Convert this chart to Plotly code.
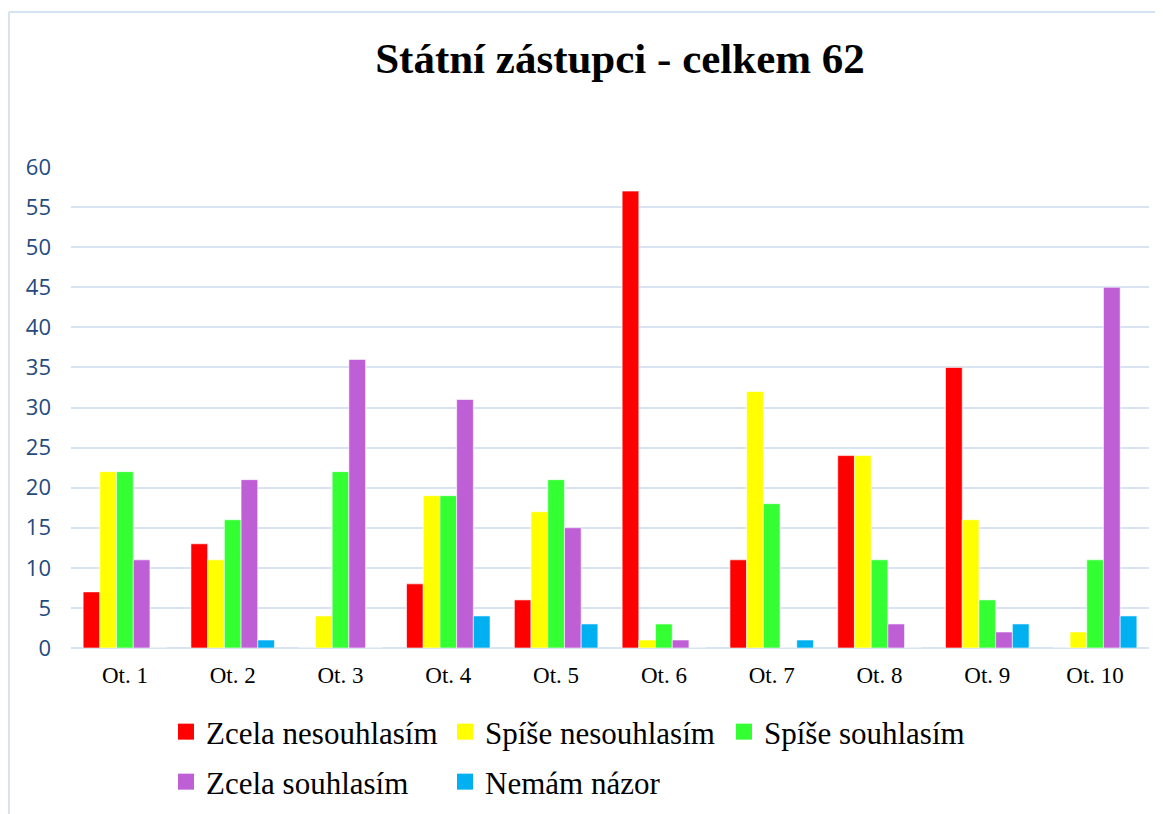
import plotly.graph_objects as go

categories = ["Ot. 1", "Ot. 2", "Ot. 3", "Ot. 4", "Ot. 5", "Ot. 6", "Ot. 7", "Ot. 8", "Ot. 9", "Ot. 10"]
zcela_nesouhlasim = [7, 13, 0, 8, 6, 57, 11, 24, 35, 0]
spise_nesouhlasim = [22, 11, 4, 19, 17, 1, 32, 24, 16, 2]
spise_souhlasim = [22, 16, 22, 19, 21, 3, 18, 11, 6, 11]
zcela_souhlasim = [11, 21, 36, 31, 15, 1, 0, 3, 2, 45]
nemam_nazor = [0, 1, 0, 4, 3, 0, 1, 0, 3, 4]

series = [
    ("Zcela nesouhlasím", zcela_nesouhlasim, "#FF0000", "legend"),
    ("Spíše nesouhlasím", spise_nesouhlasim, "#FFFF00", "legend"),
    ("Spíše souhlasím", spise_souhlasim, "#33FF33", "legend"),
    ("Zcela souhlasím", zcela_souhlasim, "#BF5FD6", "legend2"),
    ("Nemám názor", nemam_nazor, "#00B0F0", "legend2"),
]

SERIF = "Liberation Serif, Times New Roman, serif"

W, H = 1155, 806
L, R, T, B = 63, 14, 159, 166
PW, PH = W - L - R, H - T - B

fig = go.Figure()
for name, vals, col, lg in series:
    fig.add_trace(go.Bar(
        x=categories, y=vals, name=name, showlegend=False, legendgroup=name,
        marker=dict(color=col, line=dict(color="rgba(255,255,255,0.6)", width=1)),
    ))
# legend entries (larger square swatches, as in the original)
for name, vals, col, lg in series:
    fig.add_trace(go.Scatter(
        x=[None], y=[None], mode="markers", name=name, legend=lg, legendgroup=name,
        marker=dict(symbol="square", size=16, color=col, line=dict(width=0)),
    ))

def legend_opts(x, y):
    return dict(orientation="h", xref="container", yref="container",
                x=x, y=y, xanchor="left", yanchor="middle",
                entrywidth=234, entrywidthmode="pixels", itemsizing="trace",
                font=dict(family=SERIF, size=31, color="black"),
                itemclick=False, itemdoubleclick=False, bgcolor="rgba(0,0,0,0)")

fig.update_layout(
    width=W, height=H,
    font=dict(family=SERIF, color="black"),
    paper_bgcolor="white", plot_bgcolor="white",
    barmode="group", bargap=0.225, bargroupgap=0,
    margin=dict(l=L, r=R, t=T, b=B, autoexpand=False),
    title=dict(text="<b>Státní zástupci - celkem 62</b>", xref="container", x=612 / W, xanchor="center",
               yref="container", y=1 - 50 / H, yanchor="middle",
               font=dict(family=SERIF, size=43, color="black")),
    showlegend=True,
    legend=legend_opts(158 / W, 1 - 724 / H),
    legend2=legend_opts(158 / W, 1 - 774 / H),
    xaxis=dict(tickfont=dict(family=SERIF, size=23, color="black"),
               showgrid=False, showline=False, ticks="", ticklabelstandoff=11),
    yaxis=dict(range=[0, 60], dtick=5, tickfont=dict(family="Open Sans", size=22, color="#234A7E"),
               gridcolor="#D9E4F2", gridwidth=2, zeroline=True, zerolinecolor="#D9E4F2", zerolinewidth=2,
               showline=False, ticks="", ticklabelstandoff=19),
    shapes=[
        dict(type="line", xref="paper", yref="paper", x0=-(L - 1) / PW, x1=-(L - 1) / PW,
             y0=-B / PH, y1=(PH + T - 4) / PH, line=dict(color="#D6E4F2", width=2)),
        dict(type="line", xref="paper", yref="paper", x0=-(L - 1) / PW, x1=(PW + R) / PW,
             y0=(PH + T - 4) / PH, y1=(PH + T - 4) / PH, line=dict(color="#D6E4F2", width=2)),
    ],
)

fig.write_html("out.html")
